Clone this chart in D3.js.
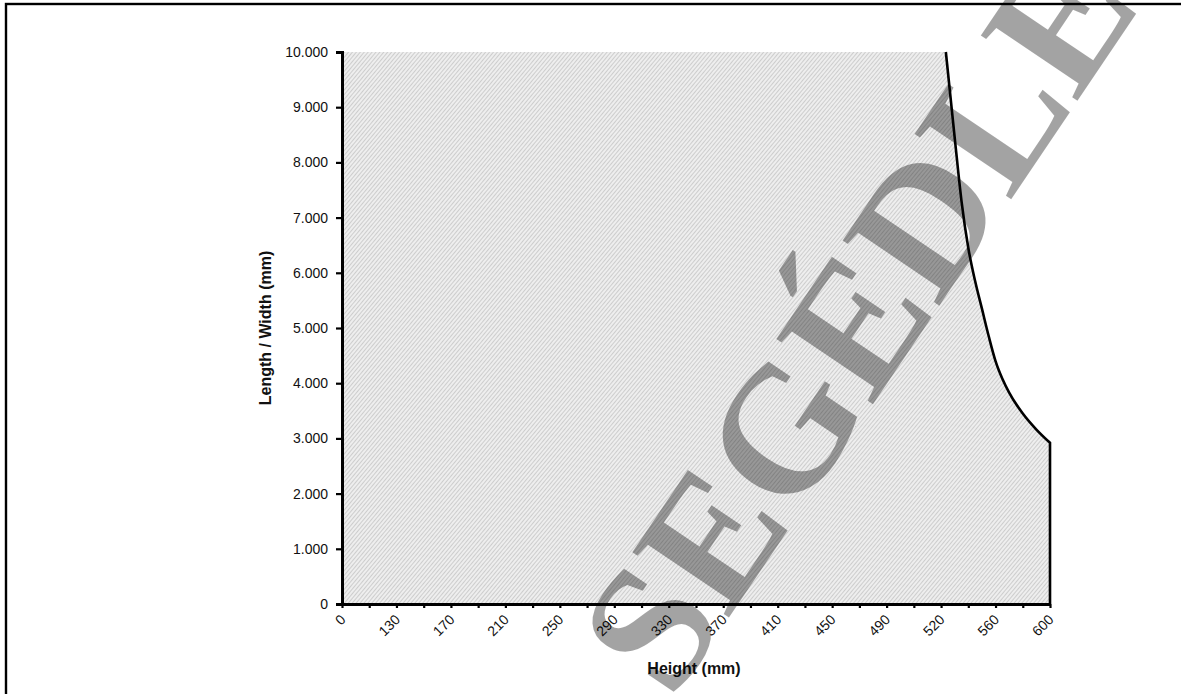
<!DOCTYPE html>
<html><head><meta charset="utf-8">
<script src="https://cdn.jsdelivr.net/npm/d3@7"></script>
<style>body{margin:0;background:#fff}svg{display:block}</style>
</head><body>
<svg id="chart" width="1181" height="694"></svg>
<script>
// ---- data ----
const xTickLabels = [0,130,170,210,250,290,330,370,410,450,490,520,560,600];
const yTickValues = [0,1000,2000,3000,4000,5000,6000,7000,8000,9000,10000];
const limitHeights = [523.5,530,535,540,545,550,555,560,565,570,580,590,600];
const limitLengths = [10000,8450,7300,6450,5850,5350,4850,4400,4080,3830,3450,3160,2920];
const yMax = 10000;
const watermarkText = "SEGÉDLET";

const svg = d3.select("#chart");
const L = 342, R = 1050, T = 52, B = 604;

// polylinear x scale: labels evenly spaced like a category axis
const x = d3.scaleLinear()
  .domain(xTickLabels)
  .range(xTickLabels.map((d,i)=> L + i*(R-L)/(xTickLabels.length-1)));
const y = d3.scaleLinear().domain([0,yMax]).range([B,T]);

// frame
svg.append("rect").attr("x",6).attr("y",4).attr("width",1300).attr("height",800)
  .attr("fill","none").attr("stroke","#000").attr("stroke-width",2.4);

// hatch pattern
const defs = svg.append("defs");
const pat = defs.append("pattern").attr("id","hatch").attr("patternUnits","userSpaceOnUse")
  .attr("width",3).attr("height",10).attr("patternTransform","rotate(40)");
pat.append("rect").attr("width",3).attr("height",10).attr("fill","#eeeeee");
pat.append("line").attr("x1",0.5).attr("x2",0.5).attr("y1",0).attr("y2",10)
  .attr("stroke","#cdcdcd").attr("stroke-width",1);

// area data
const pts = limitHeights.map((h,i)=>({h, v:limitLengths[i]}));
const areaPts = [{h:xTickLabels[0], v:yMax}].concat(pts);
const area = d3.area().x(d=>x(d.h)).y0(y(0)).y1(d=>y(d.v)).curve(d3.curveMonotoneX);
svg.append("path").datum(areaPts).attr("d",area).attr("fill","url(#hatch)");

// boundary line (curve + vertical drop at the last height)
const line = d3.line().x(d=>x(d.h)).y(d=>y(d.v)).curve(d3.curveMonotoneX);
const last = pts[pts.length-1];
svg.append("path").attr("d", line(pts) + `L${x(last.h)},${y(0)}`).attr("fill","none")
  .attr("stroke","#000").attr("stroke-width",2.6).attr("stroke-linejoin","miter");

// y axis
const fmt = d => d3.format(",")(d).replace(/,/g,".");
const ya = svg.append("g").attr("transform",`translate(${L},0)`)
  .call(d3.axisLeft(y).tickValues(yTickValues).tickSize(6).tickPadding(8).tickFormat(fmt));
ya.select(".domain").attr("stroke","#000").attr("stroke-width",3);
ya.selectAll(".tick line").attr("stroke","#000").attr("stroke-width",2.2);
ya.selectAll(".tick text").attr("font-family","Liberation Sans, Arial, sans-serif")
  .attr("font-size",14).attr("fill","#111");

// x axis (ticks at labels and midpoints)
const allTicks = [];
xTickLabels.forEach((d,i)=>{ allTicks.push(d); if(i<xTickLabels.length-1) allTicks.push((d+xTickLabels[i+1])/2); });
const xa = svg.append("g").attr("transform",`translate(0,${B})`)
  .call(d3.axisBottom(x).tickValues(allTicks).tickSize(4).tickSizeOuter(0).tickFormat(""));
xa.select(".domain").attr("stroke","#000").attr("stroke-width",3);
xa.selectAll(".tick line").attr("stroke","#000").attr("stroke-width",2.2);
svg.append("g").selectAll("text").data(xTickLabels).join("text")
  .attr("transform",d=>`translate(${x(d)+1},${B+13}) rotate(-45)`)
  .attr("text-anchor","end").attr("dy","0.35em")
  .attr("font-family","Liberation Sans, Arial, sans-serif").attr("font-size",14).attr("fill","#111")
  .text(d=>d);

// axis titles
svg.append("text").attr("x",(L+R)/2-2).attr("y",674).attr("text-anchor","middle")
  .attr("font-family","Liberation Sans, Arial, sans-serif").attr("font-weight","bold")
  .attr("font-size",16).attr("fill","#111").text("Height (mm)");
svg.append("text").attr("transform",`translate(271,${(T+B)/2}) rotate(-90)`).attr("text-anchor","middle")
  .attr("font-family","Liberation Sans, Arial, sans-serif").attr("font-weight","bold")
  .attr("font-size",16).attr("fill","#111").text("Length / Width (mm)");

// watermark
svg.append("text").attr("transform","translate(672,702) rotate(-56)")
  .attr("font-family","Liberation Serif, Times New Roman, serif").attr("font-size",178)
  .attr("font-weight","bold")
  .attr("fill","#000").attr("fill-opacity",0.36).text(watermarkText);
</script>
</body></html>
